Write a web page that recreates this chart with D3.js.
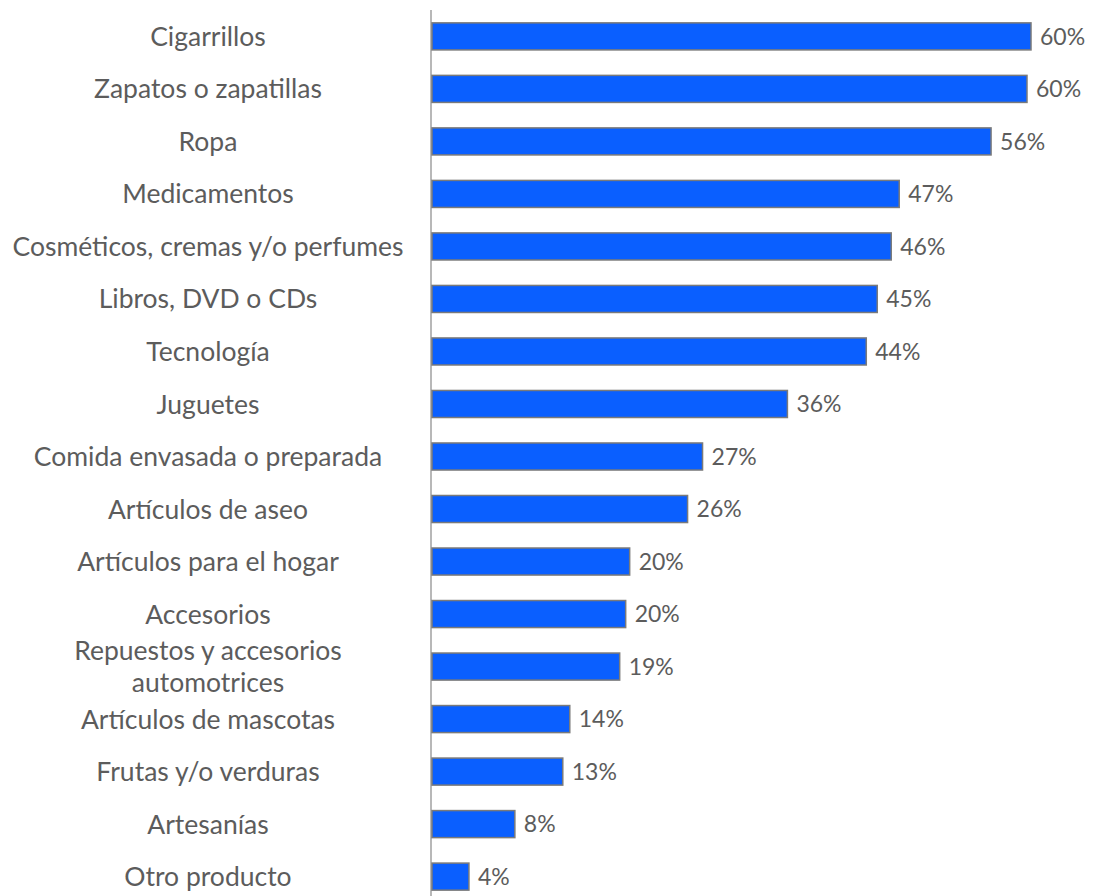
<!DOCTYPE html>
<html><head><meta charset="utf-8">
<script src="https://cdn.jsdelivr.net/npm/d3@7"></script>
<style>body{margin:0;background:#fff}svg{display:block}text{font-family:Lato,"Open Sans",sans-serif}</style>
</head><body><svg id="c" width="1094" height="896"></svg>
<script>
const categories = ["Cigarrillos","Zapatos o zapatillas","Ropa","Medicamentos","Cosméticos, cremas y/o perfumes","Libros, DVD o CDs","Tecnología","Juguetes","Comida envasada o preparada","Artículos de aseo","Artículos para el hogar","Accesorios","Repuestos y accesorios\nautomotrices","Artículos de mascotas","Frutas y/o verduras","Artesanías","Otro producto"];
const values = [60.0,59.6,56.0,46.8,46.0,44.6,43.5,35.6,27.1,25.6,19.8,19.4,18.8,13.8,13.1,8.3,3.7];
const valueLabels = ["60%","60%","56%","47%","46%","45%","44%","36%","27%","26%","20%","20%","19%","14%","13%","8%","4%"];

const svg = d3.select("#c");
const x = d3.scaleLinear().domain([0,60]).range([432,1031]);
const y = d3.scaleBand().domain(categories).range([10,903]).paddingInner(0.485).paddingOuter(0.245);

svg.append("line").attr("x1",431).attr("x2",431).attr("y1",10).attr("y2",896)
  .attr("stroke","#b8b8b8").attr("stroke-width",2);

svg.selectAll("rect.bar").data(categories).join("rect").attr("class","bar")
  .attr("x",x(0)).attr("y",d=>y(d)).attr("height",y.bandwidth())
  .attr("width",(d,i)=>x(values[i])-x(0))
  .attr("fill","#0a5fff").attr("stroke","#7a7a7a").attr("stroke-width",1.5);

svg.selectAll("text.val").data(categories).join("text").attr("class","val")
  .attr("x",(d,i)=>x(values[i])+9).attr("y",d=>y(d)+y.bandwidth()/2)
  .attr("dy","0.36em").attr("font-size",23).attr("fill","#5c5c5c")
  .text((d,i)=>valueLabels[i]);

const lab = svg.selectAll("text.lab").data(categories).join("text").attr("class","lab")
  .attr("x",208).attr("text-anchor","middle").attr("font-size",26.5).attr("fill","#5c5c5c")
  .attr("y",d=>y(d)+y.bandwidth()/2);
lab.each(function(d){
  const lines = d.split("\n");
  const t = d3.select(this);
  lines.forEach((l,k)=>{
    t.append("tspan").attr("x",208)
     .attr("dy", k===0 ? (0.36-(lines.length-1)*0.6)+"em" : "1.2em").text(l);
  });
});
</script></body></html>
